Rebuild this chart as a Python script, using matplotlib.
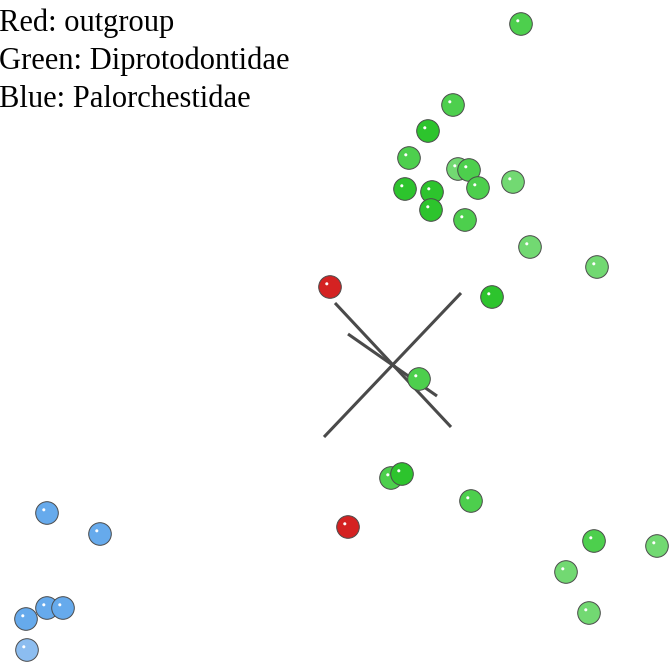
import numpy as np
import matplotlib.pyplot as plt

# =========================================================
# DATA (projected screen positions)
# =========================================================
GREEN_X = [521, 453, 428, 409, 458, 469, 405, 432, 478, 513, 431, 465,
           530, 597, 492, 419, 391, 402, 471, 594, 657, 566, 589]
GREEN_Y = [24, 105, 131, 158, 169, 170, 189, 192, 188, 182, 210, 220,
           247, 267, 297, 379, 478, 474, 501, 541, 546, 572, 613]
# depth shade: 0 = near (dark), 1 = mid, 2 = far (light)
GREEN_DEPTH = [1, 1, 0, 1, 2, 1, 0, 0, 1, 2, 0, 1,
               2, 2, 0, 1, 1, 0, 1, 1, 2, 2, 2]

RED_X = [330, 348]
RED_Y = [287, 527]
RED_DEPTH = [0, 0]

BLUE_X = [47, 100, 47, 63, 26, 27]
BLUE_Y = [513, 534, 608, 608, 619, 650]
BLUE_DEPTH = [1, 1, 1, 1, 1, 2]

# axis segments through the centroid
AXIS_SEGMENTS = [((335, 303), (451, 427)),
                 ((324, 437), (461, 293)),
                 ((348, 334), (437, 396))]

LABELS = ["Red: outgroup", "Green: Diprotodontidae", "Blue: Palorchestidae"]

PALETTE = {
    "green": ["#2dc42d", "#4dcf4d", "#72d972"],
    "red":   ["#d42222", "#d84040", "#e06060"],
    "blue":  ["#5fa5ea", "#66aaec", "#8cbdf0"],
}

# =========================================================
# PLOT
# =========================================================
W, H = 672, 662
fig = plt.figure(figsize=(W / 100, H / 100), dpi=100)
ax = fig.add_axes([0, 0, 1, 1])
ax.set_xlim(0, W)
ax.set_ylim(H, 0)
ax.axis("off")

for (x0, y0), (x1, y1) in AXIS_SEGMENTS:
    ax.plot([x0, x1], [y0, y1], color="#4a4a4a", lw=2.2, solid_capstyle="butt", zorder=1)

radius_pt = 11.3 * 72 / 100
size = (2 * radius_pt) ** 2

def spheres(xs, ys, depth, group):
    cols = [PALETTE[group][d] for d in depth]
    ax.scatter(xs, ys, s=size, c=cols, edgecolors="#4a4a4a", linewidths=0.7, zorder=2)
    ax.scatter(np.array(xs) - 3.2, np.array(ys) - 3.2, s=5, c="white",
               edgecolors="none", zorder=3)

spheres(BLUE_X, BLUE_Y, BLUE_DEPTH, "blue")
spheres(RED_X, RED_Y, RED_DEPTH, "red")
spheres(GREEN_X, GREEN_Y, GREEN_DEPTH, "green")

for i, lab in enumerate(LABELS):
    ax.text(-1, 31 + i * 38, lab, family="Liberation Serif", fontsize=22,
            va="baseline", ha="left", color="black")

fig.savefig("out.png", dpi=100, facecolor="white")
